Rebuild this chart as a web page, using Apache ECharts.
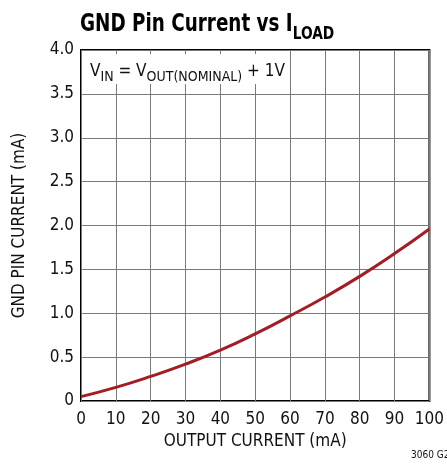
<!DOCTYPE html>
<html>
<head>
<meta charset="utf-8">
<script src="https://cdn.jsdelivr.net/npm/echarts@6/dist/echarts.min.js"></script>
<style>
  html, body { margin: 0; padding: 0; background: #fff; }
  #chart { width: 447px; height: 468px; }
</style>
</head>
<body>
<div id="chart"></div>
<script>
// Output current (mA) and ground-pin current (mA)
var loadCurrent = [0, 10, 20, 30, 40, 50, 60, 70, 80, 90, 100];
var gndCurrent = [0.05, 0.155, 0.28, 0.42, 0.58, 0.765, 0.97, 1.185, 1.42, 1.68, 1.96];
var yTicks = ['0', '0.5', '1.0', '1.5', '2.0', '2.5', '3.0', '3.5', '4.0'];

var FONT = '"DejaVu Sans Condensed", "Liberation Sans Narrow", sans-serif';

var chart = echarts.init(document.getElementById('chart'), null, { renderer: 'canvas' });

var points = loadCurrent.map(function (x, i) { return [x, gndCurrent[i]]; });

chart.setOption({
  animation: false,
  backgroundColor: '#fff',
  grid: {
    left: 81, right: 14, top: 50, bottom: 67,
    show: true, borderColor: '#000', borderWidth: 2, backgroundColor: 'transparent'
  },
  xAxis: {
    type: 'value', min: 0, max: 100, interval: 10,
    name: 'OUTPUT CURRENT (mA)', nameLocation: 'middle', nameGap: 32,
    nameTextStyle: { fontFamily: FONT, fontSize: 17, color: '#111' },
    axisLine: { show: false },
    axisTick: { show: false },
    axisLabel: { fontFamily: FONT, fontSize: 17, color: '#111', margin: 10 },
    splitLine: { show: true, lineStyle: { color: '#7a7a7a', width: 1 } }
  },
  yAxis: {
    type: 'value', min: 0, max: 4, interval: 0.5,
    name: 'GND PIN CURRENT (mA)', nameLocation: 'middle', nameGap: 53,
    nameTextStyle: { fontFamily: FONT, fontSize: 17, color: '#111' },
    axisLine: { show: false },
    axisTick: { show: false },
    axisLabel: {
      fontFamily: FONT, fontSize: 17, color: '#111', margin: 7,
      formatter: function (v) { return yTicks[Math.round(v / 0.5)]; }
    },
    splitLine: { show: true, lineStyle: { color: '#7a7a7a', width: 1 } }
  },
  series: [{
    type: 'line',
    data: points,
    smooth: true,
    showSymbol: false,
    lineStyle: { color: '#a31d24', width: 3 },
    z: 3
  }],
  graphic: [
    {
      type: 'text', x: 80, y: 9, scaleX: 0.85, originX: 0, z: 10,
      style: {
        text: '{m|GND Pin Current vs I}{s|LOAD}',
        rich: {
          m: { fontFamily: FONT, fontWeight: 'bold', fontSize: 24, fill: '#000', verticalAlign: 'bottom', lineHeight: 28 },
          s: { fontFamily: FONT, fontWeight: 'bold', fontSize: 18, fill: '#000', verticalAlign: 'bottom', lineHeight: 28, padding: [0, 0, -6, 0] }
        }
      }
    },
    {
      type: 'text', left: 86, top: 54, z: 10,
      style: {
        text: '{m|V}{s|IN}{m| = V}{s|OUT(NOMINAL)}{m| + 1V}',
        backgroundColor: '#fff',
        padding: [2, 4, 4, 4],
        rich: {
          m: { fontFamily: FONT, fontSize: 17, fill: '#111', lineHeight: 24, verticalAlign: 'bottom' },
          s: { fontFamily: FONT, fontSize: 14, fill: '#111', lineHeight: 24, verticalAlign: 'bottom', padding: [0, 0, -4, 0] }
        }
      }
    },
    {
      type: 'text', left: 411, top: 450, z: 10,
      style: { text: '3060 G26', fontFamily: FONT, fontSize: 10, fill: '#111' }
    }
  ]
});
</script>
</body>
</html>
